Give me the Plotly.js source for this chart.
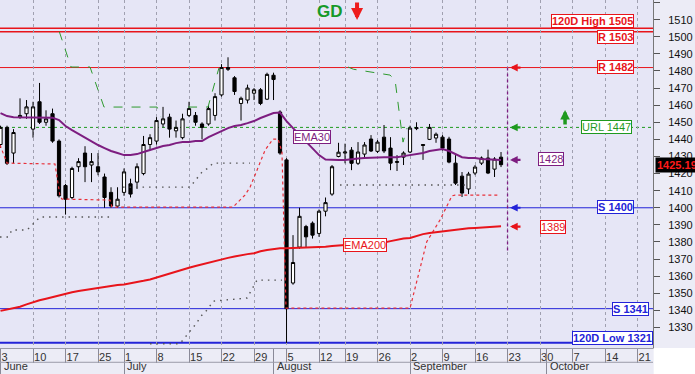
<!DOCTYPE html>
<html>
<head>
<meta charset="utf-8">
<script src="https://cdn.plot.ly/plotly-3.0.1.min.js"></script>
<style>
html,body{margin:0;padding:0;background:#ffffff;}
#chart{width:695px;height:374px;}
</style>
</head>
<body>
<div id="chart"></div>
<script>
// trading-day index (0 = June 3)
var dayIdx = [];
for (var i = 0; i < 78; i++) dayIdx.push(i);

var openP = [1437,1447,1432,1453,1455,1446,1462,1450,1455,1439,
 1413,1406,1424,1432,1425,1424,1418,1409,1401,1409,
 1414,1415,1420,1437,1439,1449,1453,1445,1441,1454,
 1454,1449,1449,1454,1466,1482,1476,1461,1463,1467,
 1469,1463.5,1477.5,1456,1428,1356,1377,1389,1391,1385,
 1398,1408,1430,1432,1433.7,1426,1431.4,1440.2,1433,1441.3,
 1434.9,1426.5,1429.6,1432.6,1446.3,1437,1440,1440.8,1441.3,1440.2,
 1426.1,1418.5,1411,1420.3,1426.1,1429.1,1422.6,1429.6];
var highP = [1448,1448,1446,1464,1463,1462,1473,1457,1458,1440,
 1414,1424,1429,1436,1432,1432,1420,1412,1412,1423,
 1417,1426,1442,1443,1453,1459,1455,1451,1455,1462,
 1456,1450,1460,1467,1484,1488,1477,1465,1472,1470,
 1470,1479,1479,1457,1429,1384,1400,1390,1392,1399,
 1406,1425,1438,1437.5,1435.5,1438.4,1438.4,1442.5,1439.6,1448.4,
 1441.3,1430.8,1433,1448,1450,1437.2,1449,1444,1442.5,1441.5,
 1430.8,1420.9,1421,1425,1430,1434,1429.6,1432.6];
var lowP = [1435,1425,1426,1452,1452,1441,1449,1448,1438,1406,
 1396,1405,1421,1415,1415,1419,1400,1400,1400,1407,
 1406,1411,1419,1434,1437,1447,1441,1441,1440,1453,
 1448,1440,1448,1451,1465,1480,1466,1451,1461,1463,
 1460,1463,1463,1431,1321,1355,1376,1377,1382,1383,
 1395,1407,1429.5,1426,1422,1425,1429.6,1432.6,1432,1432,
 1422,1421.5,1425,1432,1445.4,1428,1439.6,1438,1433.5,1426,
 1413.3,1406.3,1408,1419.1,1425,1419.7,1418,1423.8];
var closeP = [1447,1426,1444,1454,1459,1459,1450,1452,1439,1407,
 1405,1423,1427,1424,1427,1421,1406,1401,1405,1421,
 1408,1424,1437,1441,1451,1452,1446,1447,1452,1458,
 1450,1447,1458,1465,1482,1481,1468,1464,1470,1469,
 1461,1478,1475,1432,1341,1368,1395,1383,1384,1398,
 1403,1424,1432.5,1432.6,1426,1432.6,1436.7,1433.2,1438.4,1433.2,
 1426.1,1427,1432,1446.6,1446.8,1436.5,1447,1443,1434.9,1426.7,
 1414.4,1408.6,1419.7,1423.8,1429.1,1420.3,1428.5,1425.19];

var ema30 = [1455.4,1453.6,1453,1453,1453,1453,1453,1453,1452.7,1451.3,
 1447.8,1445.4,1443.1,1441.3,1439,1436.7,1434.9,1433.2,1432,1430.8,
 1430.8,1431.4,1432.6,1433.7,1434.9,1436.1,1436.7,1437.8,1438.4,1438.4,
 1439,1439,1441.3,1443.1,1444.9,1446.6,1447.8,1448.4,1449.5,1450.7,
 1452.5,1453.9,1455.4,1455.7,1450.7,1446.6,1442.5,1438.4,1434.3,1430.8,
 1428.2,1427.9,1427.9,1427.9,1428.5,1428.8,1429.1,1429.4,1429.6,1429.6,
 1429.6,1429.6,1430.2,1430.8,1431.4,1432,1433.2,1433.7,1434.3,1433.2,
 1431.4,1429.6,1429.1,1429.1,1428.5,1428.2,1428.2,1427.9];
var ema200 = [1339.7,1340.6,1341.3,1342.1,1343.5,1344.9,1345.9,1346.8,1347.8,1348.7,
 1349.8,1350.6,1351.3,1351.9,1352.4,1353.1,1353.9,1354.4,1354.8,1355.2,
 1355.8,1356.5,1357.3,1358.1,1359.3,1360.5,1361.7,1362.8,1363.9,1364.9,
 1366,1367,1368,1368.9,1369.8,1370.7,1371.5,1372.3,1372.9,1373.4,
 1374.6,1375.3,1375.9,1376.3,1376.4,1376.5,1376.5,1376.6,1376.6,1376.8,
 1377.2,1377.6,1378,1378.3,1378.6,1378.8,1379,1379.2,1379.4,1379.7,
 1380.5,1381.3,1382,1382.3,1383.5,1384.6,1385.3,1385.8,1386.4,1386.9,
 1387.4,1387.8,1388,1388.2,1388.5,1388.8,1389,1389.2];

// trailing stop lines
var upStopX = [9.05,10.85,13.77,15.92,24.08,24.69,null,28.85,31.92,33.6,null,53.46,54.3,59.92,60.7,61.92,62.54];
var upStopY = [1502.9,1482.3,1482.3,1458.9,1458.9,1453,null,1458.9,1458.9,1481.7,null,1482.3,1481,1477.6,1474.7,1438.4,1446.6];
var lowStopX = [-0.08,1.0,8.38,9.15,9.46,16.85,17.15,35.77,37.6,38.4,39.46,40.7,41.92,42.7,43.3,43.92,63,64.8,65.57,67.6,69.46,69.92,76.85];
var lowStopY = [1436.7,1426.1,1425.6,1406.8,1405.1,1404.5,1400.4,1400.4,1407.4,1412.1,1422,1433.7,1440.2,1440.2,1432.6,1341.3,1341.3,1368.4,1380.1,1392.8,1407,1407.4,1407.4];
var dot1X = [-0.08,1.15,1.77,4.08,6.08,16.85,null,18.85,29.15,31,31.92,32.7,38.38,null,52.23,71.92];
var dot1Y = [1382.9,1382.9,1387,1387,1394.6,1394.6,null,1412.1,1412.1,1420.9,1423.2,1426.1,1426.1,null,1413.3,1413.3];
var dot2X = [23,27.6,29.92,31,31.92,32.7,37.92,39.46,43.3];
var dot2Y = [1320.5,1320.5,1331.4,1337.3,1340.8,1345.4,1347.2,1357.7,1357.7];

// levels
var levelNames = ['120D High 1505','R 1503','R 1482','URL 1447','S 1400','S 1341','120D Low 1321'];
var levelValues = [1505,1503,1482,1447,1400,1341,1321];
var levelColors = ['#e8141b','#e8141b','#e8141b','#1f9a1f','#2323d8','#2323d8','#2323d8'];

// axis ticks
var weekIdx = [0,5,10,15,19,24,29,34,39,44,49,53,58,63,68,73,78,83,88,93,98];
var weekText = ['3','10','17','25','1','8','15','22','29','5','12','19','26','2','9','16','23','30','7','14','21'];
var monthIdx = [0,19,42,63,84];
var monthText = ['June','July','August','September','October'];
var yTicks = [];
for (var v = 1330; v <= 1520; v += 10) yTicks.push(v);

var lastClose = closeP[closeP.length - 1];
var emaMarks = [1428, 1389];

var FONT = 'Liberation Sans, Arial, sans-serif';
var PURPLE = '#7d1d80';

var traces = [
  {type:'scatter', x:upStopX, y:upStopY, mode:'lines', line:{color:'#2e9a2e', width:1, dash:'dash'}, hoverinfo:'skip', connectgaps:false},
  {type:'scatter', x:lowStopX, y:lowStopY, mode:'lines', line:{color:'#e8303a', width:1.2, dash:'dot'}, hoverinfo:'skip'},
  {type:'scatter', x:dot1X, y:dot1Y, mode:'lines', line:{color:'#555', width:1.4, dash:'1.5px,5px'}, hoverinfo:'skip', connectgaps:false},
  {type:'scatter', x:dot2X, y:dot2Y, mode:'lines', line:{color:'#555', width:1.4, dash:'1.5px,5px'}, hoverinfo:'skip'},
  {type:'scatter', x:dayIdx, y:ema200, mode:'lines', line:{color:'#e8141b', width:2}, hoverinfo:'skip'},
  {type:'scatter', x:dayIdx, y:ema30, mode:'lines', line:{color:PURPLE, width:2}, hoverinfo:'skip'},
  {type:'candlestick', x:dayIdx, open:openP, high:highP, low:lowP, close:closeP,
    increasing:{line:{color:'#000', width:1}, fillcolor:'#ffffff'},
    decreasing:{line:{color:'#000', width:1}, fillcolor:'#000000'},
    whiskerwidth:0, hoverinfo:'skip'},
  {type:'scatter', x:[monthIdx[0]], y:[1400], xaxis:'x2', mode:'markers', marker:{opacity:0}, hoverinfo:'skip'}
];

var shapes = [];
for (var k = 0; k < levelValues.length; k++) {
  shapes.push({type:'line', xref:'paper', x0:0, x1:1, yref:'y', y0:levelValues[k], y1:levelValues[k],
    line:{color:levelColors[k], width:(k===6?2:(k<2?1.5:1)), dash:(k===3?'dot':'solid')}, layer:'below'});
}
// vertical dotted marker at next day
shapes.push({type:'line', xref:'x', x0:weekIdx[16], x1:weekIdx[16], yref:'y', y0:1482, y1:1375,
  line:{color:PURPLE, width:1.3, dash:'dot'}, layer:'above'});
// label row separator
shapes.push({type:'line', xref:'paper', x0:0, x1:1, yref:'paper', y0:-0.041, y1:-0.041, line:{color:'#9a9aa8', width:1}});
// white corner
shapes.push({type:'rect', xref:'paper', x0:1.001, x1:1.08, yref:'paper', y0:-0.08, y1:0, fillcolor:'#ffffff', line:{width:0}});

var ann = [];
function box(text, xi, yv, color, anchor, bold) {
  ann.push({x:xi, y:yv, xref:'x', yref:'y', text:(bold?'<b>'+text+'</b>':text), showarrow:false,
    xanchor:anchor, yanchor:'middle', font:{family:FONT, size:11, color:color},
    bgcolor:'#ffffff', bordercolor:color, borderwidth:1, borderpad:0});
}
box(levelNames[0], 97.46, 1509.2, levelColors[0], 'right', true);
box(levelNames[1], 97.46, 1499.6, levelColors[1], 'right', true);
box(levelNames[2], 97.46, 1482.6, levelColors[2], 'right', true);
box(levelNames[3], 97.15, 1447.2, levelColors[3], 'right', false);
box(levelNames[4], 97.46, 1400.2, levelColors[4], 'right', true);
box(levelNames[5], 99.77, 1341.1, levelColors[5], 'right', true);
box(levelNames[6], 100.38, 1323.6, levelColors[6], 'right', true);
box(String(emaMarks[0]), 84.7, 1428.8, PURPLE, 'center', false);
box(String(emaMarks[1]), 85.0, 1388.5, '#e8141b', 'center', false);
box('EMA30', 47.85, 1441.1, PURPLE, 'center', false);
box('EMA200', 56.08, 1378.5, '#e8141b', 'center', false);

// left-pointing arrows
var arrowLevels = [1482, 1447, emaMarks[0], 1400, emaMarks[1]];
var arrowColors = ['#e8141b','#1f9a1f',PURPLE,'#2323d8','#e8141b'];
for (var a = 0; a < arrowLevels.length; a++) {
  ann.push({x:78.38, y:arrowLevels[a], xref:'x', yref:'y', ax:12, ay:0, text:'', showarrow:true,
    arrowhead:2, arrowsize:0.7, arrowwidth:2.2, arrowcolor:arrowColors[a]});
}
// green up arrow
ann.push({x:86.85, y:1457.2, xref:'x', yref:'y', ax:0, ay:16, text:'', showarrow:true,
  arrowhead:2, arrowsize:0.55, arrowwidth:3.5, arrowcolor:'#1f9a1f'});
// GD and red down arrow
ann.push({x:50.69, y:1514.5, xref:'x', yref:'y', text:'<b>GD</b>', showarrow:false,
  font:{family:FONT, size:17, color:'#169a28'}, xanchor:'center', yanchor:'middle'});
ann.push({x:54.85, y:1509.8, xref:'x', yref:'y', ax:0, ay:-19, text:'', showarrow:true,
  arrowhead:2, arrowsize:0.6, arrowwidth:4, arrowcolor:'#ee1c1c'});
// last price tag
ann.push({x:1, y:lastClose, xref:'paper', yref:'y', xanchor:'left', yanchor:'middle', xshift:2,
  text:'<b>' + lastClose.toFixed(2) + '</b>', showarrow:false, bgcolor:'#000000', borderpad:1,
  font:{family:FONT, size:11, color:'#ff1a1a'}});
// month names
for (var m = 0; m < monthIdx.length; m++) {
  ann.push({x:monthIdx[m], y:-0.0747, xref:'x', yref:'paper', xanchor:'left', yanchor:'bottom', xshift:1,
    text:monthText[m], showarrow:false, font:{family:FONT, size:11, color:'#333'}});
}

var layout = {
  width:695, height:374,
  margin:{l:0, r:42, t:0, b:26},
  paper_bgcolor:'#ececf6',
  plot_bgcolor:'#e6e6f6',
  showlegend:false,
  font:{family:FONT, size:11, color:'#222'},
  boxgap:0.3,
  xaxis:{type:'linear', range:[-0.08, 100.38], tickmode:'array', tickvals:weekIdx, ticktext:weekText,
    ticks:'outside', ticklen:14, tickcolor:'#8a8a98', tickwidth:1,
    ticklabelposition:'outside right', ticklabelstandoff:-1,
    showgrid:true, gridcolor:'#a0a0b0', griddash:'dot', gridwidth:1,
    showline:true, linecolor:'#9a9aa8', zeroline:false, fixedrange:true,
    rangeslider:{visible:false}, tickfont:{family:FONT, size:11, color:'#333'}},
  xaxis2:{type:'linear', overlaying:'x', anchor:'y', side:'bottom', range:[-0.08, 100.38],
    tickmode:'array', tickvals:monthIdx, ticks:'outside', ticklen:26, tickcolor:'#8a8a98',
    showticklabels:false, showgrid:false, zeroline:false, showline:false},
  yaxis:{side:'right', range:[1318, 1521.5], tickmode:'array', tickvals:yTicks,
    ticks:'outside', ticklen:6, tickcolor:'#555', showgrid:false, zeroline:false,
    showline:true, linecolor:'#777', ticklabelstandoff:6,
    tickfont:{family:FONT, size:11, color:'#111'}},
  shapes:shapes,
  annotations:ann
};

Plotly.newPlot('chart', traces, layout, {staticPlot:true, displayModeBar:false});
</script>
</body>
</html>
